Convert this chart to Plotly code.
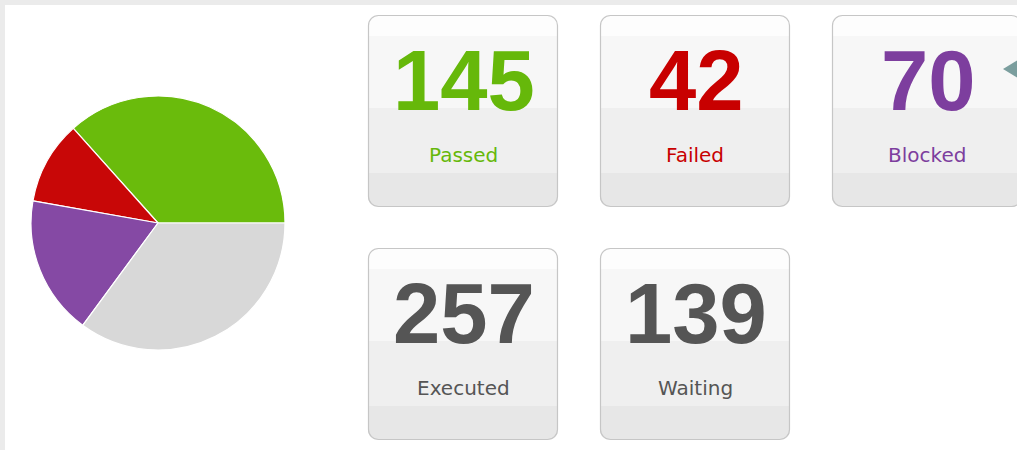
import plotly.graph_objects as go

# ---- data ----
slice_labels = ["Passed", "Failed", "Blocked", "Waiting"]
slice_values = [145, 42, 70, 139]
slice_colors = ["#6abb0c", "#c80707", "#8549a4", "#d8d8d8"]

card_labels = ["Passed", "Failed", "Blocked", "Executed", "Waiting"]
card_values = [145, 42, 70, 257, 139]
card_colors = ["#66b80a", "#c80000", "#7d3e9e", "#555555", "#555555"]

W, H = 1017, 450

def px(x):
    return x / W

def py(y):
    return 1 - y / H

def rr_path(x0, y0, x1, y1, rt, rb):
    k = 0.4477
    def P(x, y):
        return f"{px(x):.6f},{py(y):.6f}"
    s = f"M {P(x0 + rt, y0)} L {P(x1 - rt, y0)} "
    if rt:
        s += f"C {P(x1 - rt * k, y0)} {P(x1, y0 + rt * k)} {P(x1, y0 + rt)} "
    s += f"L {P(x1, y1 - rb)} "
    if rb:
        s += f"C {P(x1, y1 - rb * k)} {P(x1 - rb * k, y1)} {P(x1 - rb, y1)} "
    s += f"L {P(x0 + rb, y1)} "
    if rb:
        s += f"C {P(x0 + rb * k, y1)} {P(x0, y1 - rb * k)} {P(x0, y1 - rb)} "
    s += f"L {P(x0, y0 + rt)} "
    if rt:
        s += f"C {P(x0, y0 + rt * k)} {P(x0 + rt * k, y0)} {P(x0 + rt, y0)} "
    s += "Z"
    return s

fig = go.Figure()

# first slice should start at 3 o'clock and run counterclockwise
first_share = 360 * slice_values[0] / sum(slice_values)
cx, cy, r = 158, 223, 127
fig.add_trace(go.Pie(
    labels=slice_labels, values=slice_values, sort=False,
    direction="counterclockwise", rotation=90 - first_share,
    marker=dict(colors=slice_colors, line=dict(color="#ffffff", width=1.2)),
    textinfo="none", hoverinfo="label+value", showlegend=False,
    domain=dict(x=[px(cx - r), px(cx + r)], y=[py(cy + r), py(cy - r)]),
))

shapes = []
shapes.append(dict(type="rect", xref="paper", yref="paper",
                   x0=px(5), x1=1, y0=0, y1=py(5),
                   fillcolor="#ffffff", line=dict(width=0), layer="below"))

annotations = []
card_w, card_h = 190, 192
col_x = [368, 600, 832]
row_y = [15, 248]
positions = [(0, 0), (0, 1), (0, 2), (1, 0), (1, 1)]
for i, (row, col) in enumerate(positions):
    x0 = col_x[col]
    y0 = row_y[row]
    x1, y1 = x0 + card_w, y0 + card_h
    R = 10
    shapes.append(dict(type="path", xref="paper", yref="paper",
                       path=rr_path(x0, y0, x1, y1, R, R),
                       fillcolor="#f7f7f7", line=dict(width=0), layer="below"))
    shapes.append(dict(type="path", xref="paper", yref="paper",
                       path=rr_path(x0, y0, x1, y0 + 21, R, 0),
                       fillcolor="#fdfdfd", line=dict(width=0), layer="below"))
    shapes.append(dict(type="rect", xref="paper", yref="paper",
                       x0=px(x0), x1=px(x1), y0=py(y0 + 158), y1=py(y0 + 93),
                       fillcolor="#efefef", line=dict(width=0), layer="below"))
    shapes.append(dict(type="path", xref="paper", yref="paper",
                       path=rr_path(x0, y0 + 158, x1, y1, 0, R),
                       fillcolor="#e7e7e7", line=dict(width=0), layer="below"))
    shapes.append(dict(type="path", xref="paper", yref="paper",
                       path=rr_path(x0 + 0.5, y0 + 0.5, x1 - 0.5, y1 - 0.5, R, R),
                       fillcolor="rgba(0,0,0,0)", line=dict(color="#c6c6c6", width=1.2),
                       layer="below"))
    xc = (x0 + x1) / 2
    annotations.append(dict(
        xref="paper", yref="paper", x=px(xc + 1), y=py(y0 + 65),
        text=f"<b>{card_values[i]}</b>", showarrow=False,
        xanchor="center", yanchor="middle",
        font=dict(family="Liberation Sans, Arial", size=85, color=card_colors[i])))
    annotations.append(dict(
        xref="paper", yref="paper", x=px(xc), y=py(y0 + 140),
        text=card_labels[i], showarrow=False,
        xanchor="center", yanchor="middle",
        font=dict(family="DejaVu Sans", size=20, color=card_colors[i])))

shapes.append(dict(type="path", xref="paper", yref="paper",
                   path=f"M {px(1003)},{py(69)} L {px(1018)},{py(60)} L {px(1018)},{py(78)} Z",
                   fillcolor="#7b9e9e", line=dict(width=0), layer="below"))

fig.update_layout(
    width=W, height=H,
    margin=dict(l=0, r=0, t=0, b=0),
    paper_bgcolor="#ebebeb", plot_bgcolor="#ffffff",
    shapes=shapes, annotations=annotations,
)

fig.write_html("out.html", config={"displayModeBar": False},
               post_script="document.body.style.margin='0px';document.body.style.overflow='hidden';")
